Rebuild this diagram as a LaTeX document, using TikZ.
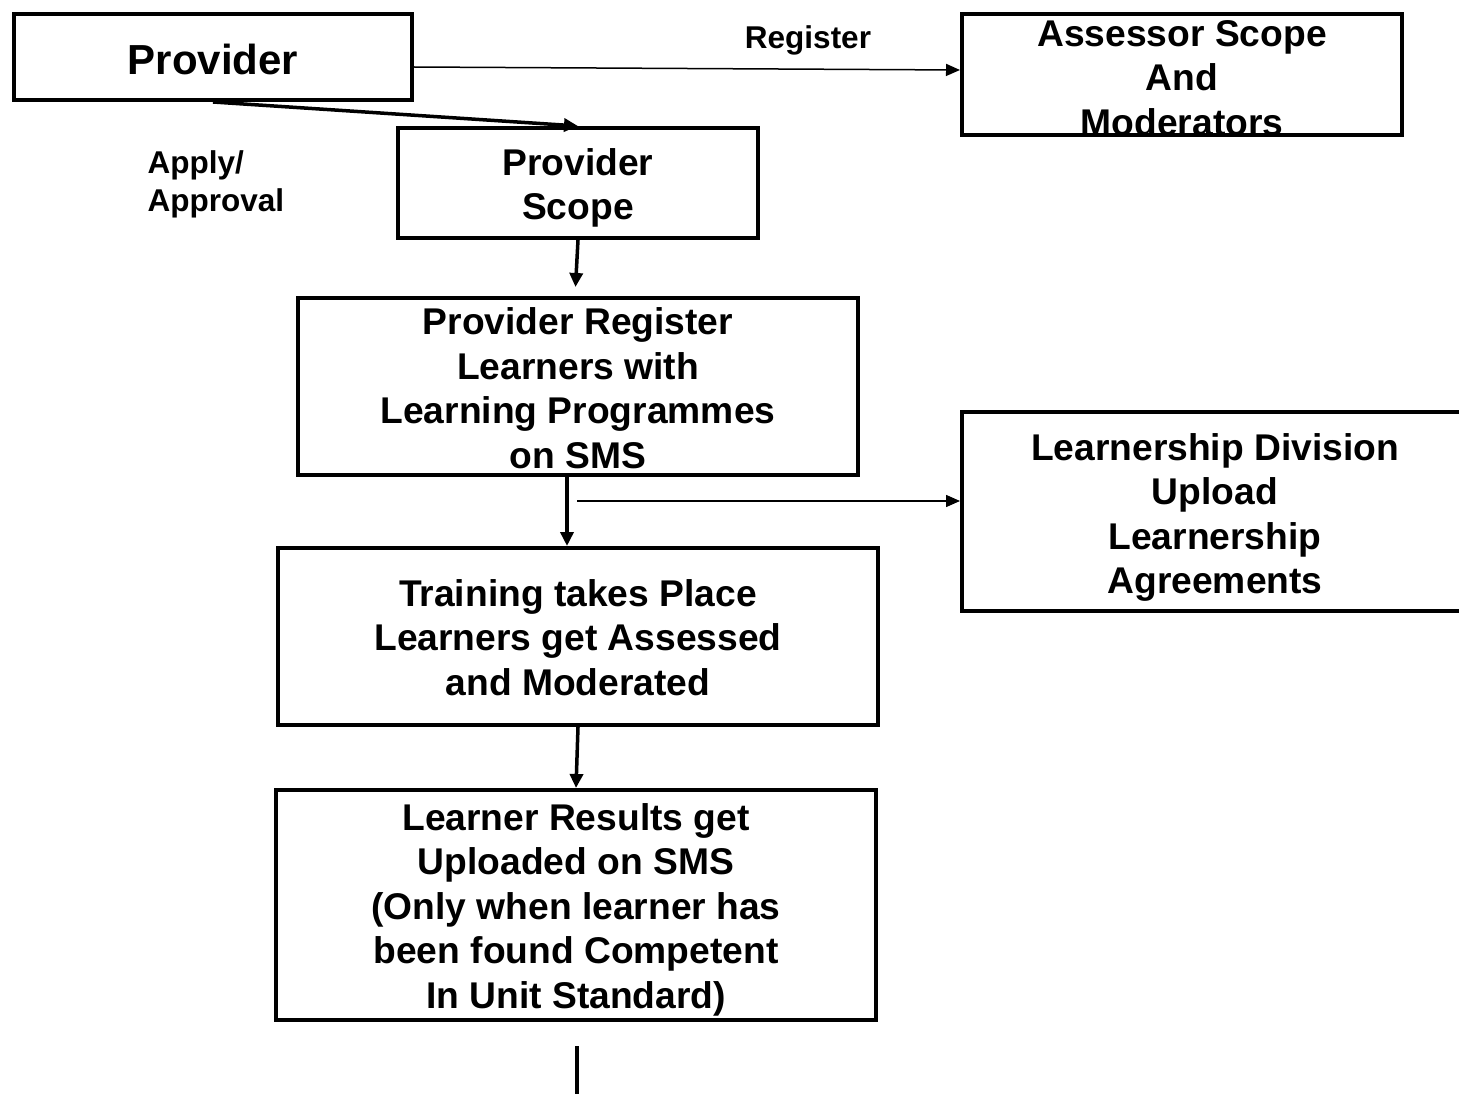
\documentclass[tikz,border=0pt]{standalone}
\usepackage{fontspec}
\setmainfont{Liberation Sans}
\usetikzlibrary{arrows.meta}
\newcommand\topgap[1]{\rule{0pt}{#1}}

\begin{document}
\begin{tikzpicture}[x=1pt,y=-1pt,
    every node/.style={font=\bfseries\fontsize{37.2}{44.5}\selectfont,align=center},
    box/.style={draw,line width=4pt,inner sep=0pt},
    note/.style={font=\bfseries\fontsize{31.5}{38}\selectfont},
    link/.style={line width=1.5pt,-{Triangle[length=14pt,width=12pt]}},
    flow/.style={line width=3.5pt,-{Triangle[length=14pt,width=13pt]}}]

\useasboundingbox (0,0) rectangle (1459,1094);

\node[box,minimum width=398,minimum height=86,
      font=\bfseries\fontsize{42}{50}\selectfont] (prov) at (213,57) {\topgap{36pt}Provider};
\node[box,minimum width=440,minimum height=121,inner ysep=-12pt] (assess) at (1182,74.5)
    {\topgap{32.6pt}Assessor Scope\\And\\Moderators};
\node[box,minimum width=360,minimum height=110] (pscope) at (578,183)
    {\topgap{36.6pt}Provider\\Scope};
\node[box,minimum width=560,minimum height=177] (preg) at (578,386.5)
    {\topgap{30.6pt}Provider Register\\Learners with\\Learning Programmes\\on SMS};
\node[box,minimum width=506,minimum height=199] (lead) at (1215,511.5)
    {\topgap{38.6pt}Learnership Division\\Upload\\Learnership\\Agreements};
\node[box,minimum width=600,minimum height=177] (train) at (578,636.5)
    {\topgap{28.6pt}Training takes Place\\Learners get Assessed\\and Moderated};
\node[box,minimum width=600,minimum height=230] (result) at (576,905)
    {\topgap{36.6pt}Learner Results get\\Uploaded on SMS\\(Only when learner has\\been found Competent\\In Unit Standard)};

\node[note] (reg) at (808,40) {Register};
\node[note,align=left,anchor=west] (apply) at (144,184) {Apply/\\Approval};

\coordinate (fork) at (577,501);
\coordinate (tail) at (577,1094);

\draw[link] ([yshift=-10pt]prov.east) -- ([yshift=4.5pt]assess.west);
\draw[flow] (prov.south) -- (pscope.north);
\draw[flow,shorten >=9pt] (pscope.south) -- ([xshift=-3pt]preg.north);
\draw[flow] ([xshift=-11pt]preg.south) -- ([xshift=-11pt]train.north);
\draw[link] (fork) -- (fork -| lead.west);
\draw[flow] (train.south) -- (result.north);
\draw[line width=3.5pt] ([yshift=-24pt]result.south -| tail) -- (tail);

\end{tikzpicture}
\end{document}
